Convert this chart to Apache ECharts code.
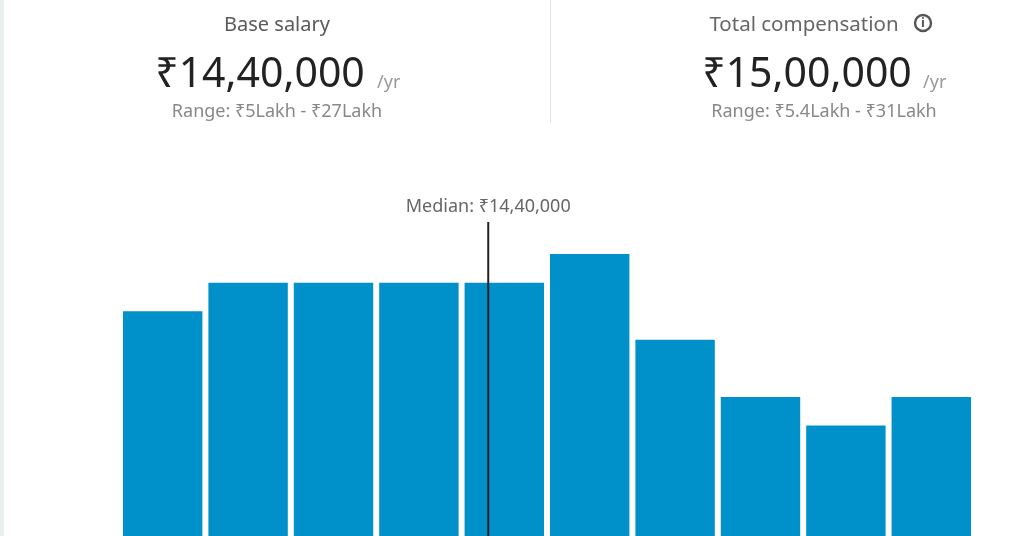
<!DOCTYPE html>
<html><head><meta charset="utf-8">
<style>html,body{margin:0;padding:0;background:#fff}#c{width:1024px;height:536px}</style>
<script src="https://cdn.jsdelivr.net/npm/echarts@6/dist/echarts.min.js"></script>
</head><body><div id="c"></div>
<script>
const binLabels = ['1','2','3','4','5','6','7','8','9','10'];
const counts = [8, 9, 9, 9, 9, 10, 7, 5, 4, 5];
const axisLakhMin = 5, axisLakhMax = 26.8;
const medianLakh = 14.4;
const yVisibleMin = 0.14;
const medianLineTop = 11.12;
const medianLabel = 'Median: ₹14,40,000';
const baseTitle = 'Base salary', baseValue = '₹14,40,000', baseRange = 'Range: ₹5Lakh - ₹27Lakh';
const totalTitle = 'Total compensation', totalValue = '₹15,00,000', totalRange = 'Range: ₹5.4Lakh - ₹31Lakh';
const perYear = '/yr';

const F = '"Noto Sans","Open Sans",sans-serif';
const txt = (x, y, text, size, fill, align, weight) => ({
  type: 'text', x, y,
  style: { text, fontFamily: F, fontSize: size, fontWeight: weight || 'normal', fill, align: align || 'center', verticalAlign: 'middle' }
});
const chart = echarts.init(document.getElementById('c'), null, { renderer: 'canvas' });
chart.setOption({
  animation: false,
  backgroundColor: '#fff',
  grid: { left: 120, right: 50, top: 222, bottom: 0 },
  xAxis: [
    { type: 'category', data: binLabels, show: false },
    { type: 'value', min: axisLakhMin, max: axisLakhMax, show: false }
  ],
  yAxis: { type: 'value', min: yVisibleMin, max: medianLineTop, show: false },
  series: [
    { type: 'bar', data: counts, xAxisIndex: 0, barWidth: '93%', itemStyle: { color: '#0091CA' }, silent: true },
    { type: 'line', xAxisIndex: 1, silent: true, symbol: 'circle', symbolSize: 0, showSymbol: true, z: 5, clip: false,
      lineStyle: { color: '#222', width: 2 },
      data: [[medianLakh, yVisibleMin], {
        value: [medianLakh, medianLineTop],
        label: { show: true, position: 'top', distance: 6, formatter: medianLabel,
          fontFamily: F, fontSize: 18, color: '#666' }
      }] }
  ],
  graphic: [
    { type: 'rect', shape: { x: 0, y: 0, width: 4, height: 536 }, style: { fill: '#e9efef' } },
    { type: 'rect', shape: { x: 550, y: 0, width: 1, height: 123 }, style: { fill: '#e2e2e2' } },
    txt(277, 25, baseTitle, 20, '#5a5a5a'),
    txt(260, 75, baseValue, 41, '#222'),
    txt(377, 83, perYear, 18, '#999', 'left'),
    txt(277, 112, baseRange, 18, '#888'),
    txt(804, 25, totalTitle, 20.5, '#666'),
    txt(807, 75, totalValue, 41, '#222'),
    txt(923, 83, perYear, 18, '#999', 'left'),
    txt(824, 112, totalRange, 18, '#888'),
    { type: 'circle', shape: { cx: 923, cy: 23, r: 8 }, style: { fill: 'none', stroke: '#555', lineWidth: 2.4 } },
    txt(923, 23, 'i', 13, '#555', 'center', 'bold')
  ]
});
</script></body></html>
